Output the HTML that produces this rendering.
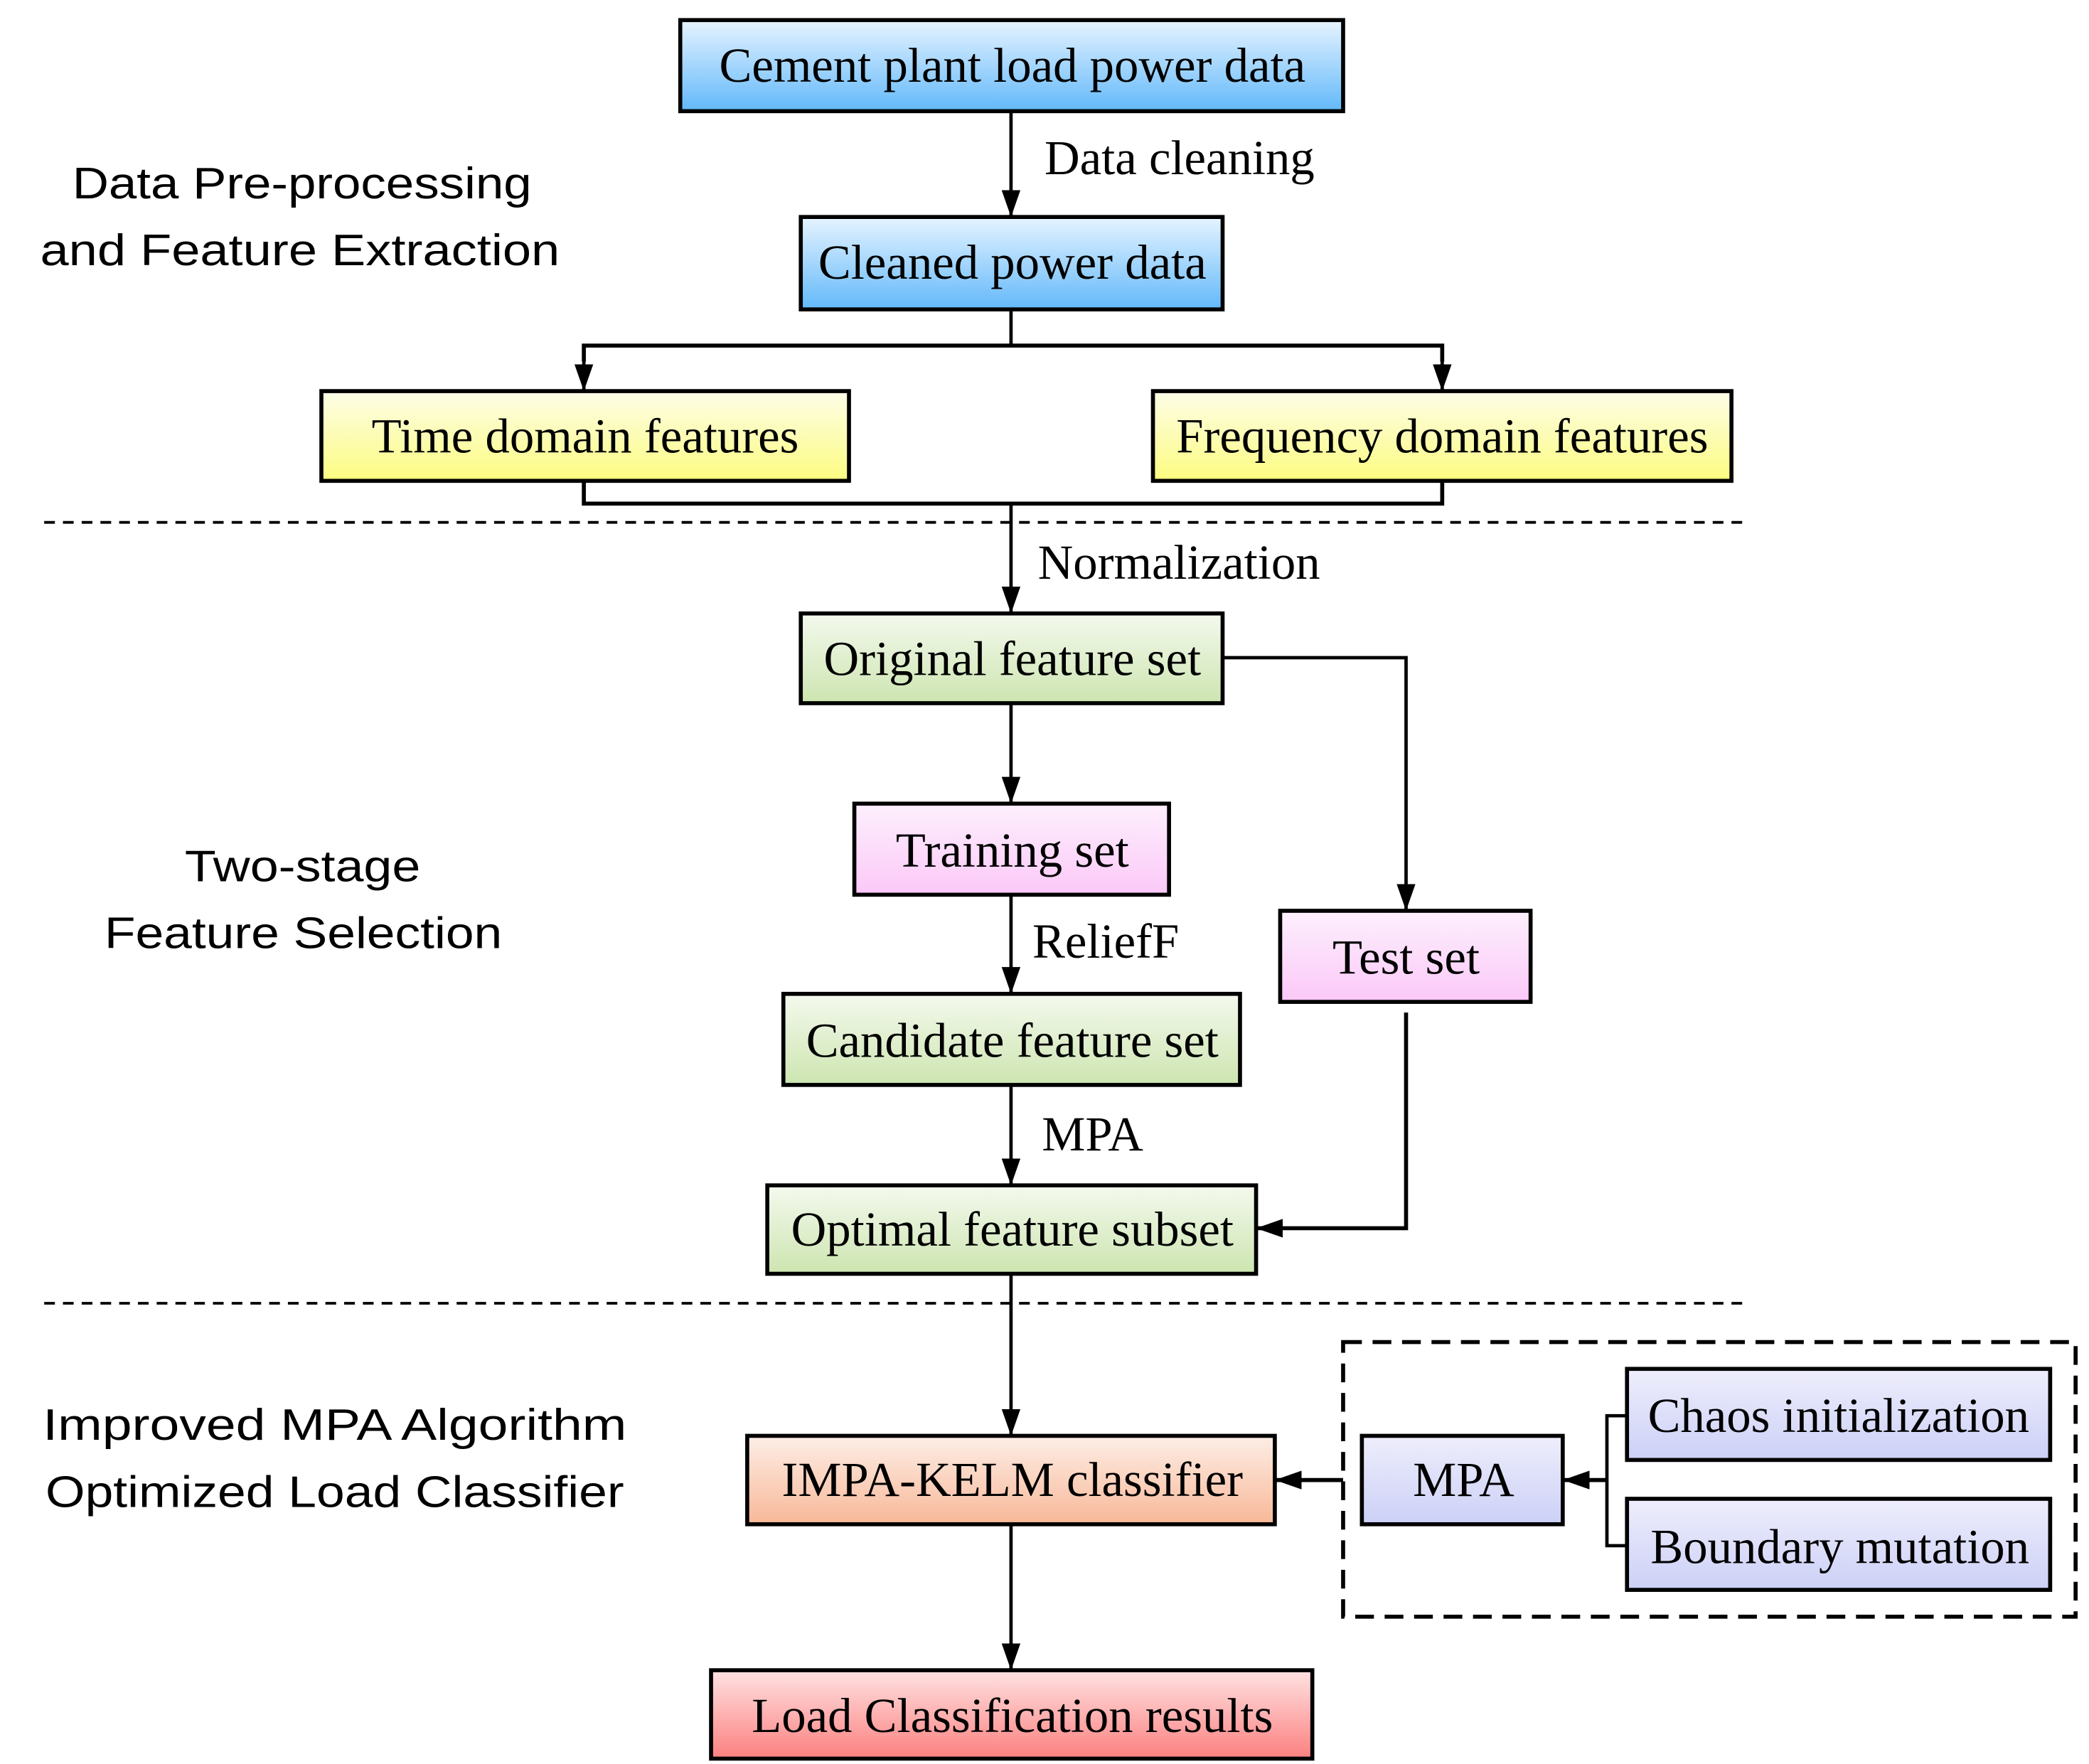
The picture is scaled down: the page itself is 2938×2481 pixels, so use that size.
<!DOCTYPE html>
<html><head><meta charset="utf-8"><style>html,body{margin:0;padding:0;background:#fff}svg{display:block}</style></head>
<body>
<svg width="2938" height="2481" viewBox="0 0 1560 1317" preserveAspectRatio="none" xmlns="http://www.w3.org/2000/svg">
<defs>
<linearGradient id="gb" x1="0" y1="0" x2="0" y2="1"><stop offset="0" stop-color="#e6f4ff"/><stop offset="1" stop-color="#62b8fa"/></linearGradient>
<linearGradient id="gy" x1="0" y1="0" x2="0" y2="1"><stop offset="0" stop-color="#fdfde8"/><stop offset="1" stop-color="#fcfc80"/></linearGradient>
<linearGradient id="gg" x1="0" y1="0" x2="0" y2="1"><stop offset="0" stop-color="#f4f9ee"/><stop offset="1" stop-color="#cde5b0"/></linearGradient>
<linearGradient id="gp" x1="0" y1="0" x2="0" y2="1"><stop offset="0" stop-color="#fdf0fd"/><stop offset="1" stop-color="#fbc8f8"/></linearGradient>
<linearGradient id="go" x1="0" y1="0" x2="0" y2="1"><stop offset="0" stop-color="#fdeee6"/><stop offset="1" stop-color="#f8b898"/></linearGradient>
<linearGradient id="gr" x1="0" y1="0" x2="0" y2="1"><stop offset="0" stop-color="#ffe2e2"/><stop offset="1" stop-color="#fc8080"/></linearGradient>
<linearGradient id="gl" x1="0" y1="0" x2="0" y2="1"><stop offset="0" stop-color="#eeeefc"/><stop offset="1" stop-color="#ccd0f6"/></linearGradient>
<marker id="a" markerWidth="20" markerHeight="14" refX="19" refY="7" orient="auto" markerUnits="userSpaceOnUse"><path d="M0,0 L20,7 L0,14 Z" fill="#000"/></marker>
</defs>
<g stroke="#000" stroke-width="3">
<rect x="508" y="15" width="495" height="68" fill="url(#gb)"/>
<rect x="598" y="162" width="315" height="69" fill="url(#gb)"/>
<rect x="240" y="292" width="394" height="67" fill="url(#gy)"/>
<rect x="861" y="292" width="432" height="67" fill="url(#gy)"/>
<rect x="598" y="458" width="315" height="67" fill="url(#gg)"/>
<rect x="638" y="600" width="235" height="68" fill="url(#gp)"/>
<rect x="956" y="680" width="187" height="68" fill="url(#gp)"/>
<rect x="585" y="742" width="341" height="68" fill="url(#gg)"/>
<rect x="573" y="885" width="365" height="66" fill="url(#gg)"/>
<rect x="558" y="1072" width="394" height="66" fill="url(#go)"/>
<rect x="531" y="1247" width="449" height="66" fill="url(#gr)"/>
<rect x="1017" y="1072" width="150" height="66" fill="url(#gl)"/>
<rect x="1215" y="1022" width="316" height="68" fill="url(#gl)"/>
<rect x="1215" y="1119" width="316" height="68" fill="url(#gl)"/>
</g>
<g stroke="#000" stroke-width="2.5" fill="none">
<line x1="755" y1="83" x2="755" y2="161" marker-end="url(#a)"/>
<polyline points="755,231 755,258"/>
<polyline points="436,270 436,258 1077,258 1077,270" stroke-width="3"/>
<line x1="436" y1="258" x2="436" y2="291" marker-end="url(#a)"/>
<line x1="1077" y1="258" x2="1077" y2="291" marker-end="url(#a)"/>
<polyline points="436,359 436,376 1077,376 1077,359" stroke-width="3"/>
<line x1="755" y1="376" x2="755" y2="457" marker-end="url(#a)"/>
<polyline points="913,491 1050,491 1050,679" marker-end="url(#a)"/>
<line x1="755" y1="525" x2="755" y2="599" marker-end="url(#a)"/>
<line x1="755" y1="668" x2="755" y2="741" marker-end="url(#a)"/>
<line x1="755" y1="810" x2="755" y2="884" marker-end="url(#a)"/>
<polyline points="1050,756 1050,917 939,917" marker-end="url(#a)" stroke-width="3"/>
<line x1="755" y1="951" x2="755" y2="1071" marker-end="url(#a)"/>
<line x1="755" y1="1138" x2="755" y2="1246" marker-end="url(#a)"/>
<line x1="1003" y1="1105" x2="953" y2="1105" marker-end="url(#a)" stroke-width="3"/>
<polyline points="1215,1057 1200,1057 1200,1154 1215,1154"/>
<line x1="1200" y1="1105" x2="1168" y2="1105" marker-end="url(#a)" stroke-width="3"/>
<line x1="33" y1="390" x2="1307" y2="390" stroke-dasharray="8,6" stroke-width="2"/>
<line x1="33" y1="973" x2="1307" y2="973" stroke-dasharray="8,6" stroke-width="2"/>
<rect x="1003" y="1002" width="547" height="205" stroke-dasharray="14,8" stroke-width="3"/>
</g>
<g font-family="'Liberation Serif',serif" font-size="36.5" text-anchor="middle" fill="#000">
<text x="756" y="61">Cement plant load power data</text>
<text x="756" y="208">Cleaned power data</text>
<text x="437" y="338">Time domain features</text>
<text x="1077" y="338">Frequency domain features</text>
<text x="756" y="504">Original feature set</text>
<text x="756" y="647">Training set</text>
<text x="1050" y="727">Test set</text>
<text x="756" y="789">Candidate feature set</text>
<text x="756" y="930">Optimal feature subset</text>
<text x="756" y="1117">IMPA-KELM classifier</text>
<text x="756" y="1293">Load Classification results</text>
<text x="1093" y="1117">MPA</text>
<text x="1373" y="1069">Chaos initialization</text>
<text x="1374" y="1167">Boundary mutation</text>
<g text-anchor="start">
<text x="780" y="130">Data cleaning</text>
<text x="775" y="432">Normalization</text>
<text x="771" y="715">ReliefF</text>
<text x="778" y="859">MPA</text>
</g>
</g>
<g font-family="'Liberation Sans',sans-serif" font-size="33" fill="#000">
<text x="54" y="148" textLength="343" lengthAdjust="spacingAndGlyphs">Data Pre-processing</text>
<text x="30" y="198" textLength="388" lengthAdjust="spacingAndGlyphs">and Feature Extraction</text>
<text x="138" y="658" textLength="176" lengthAdjust="spacingAndGlyphs">Two-stage</text>
<text x="78" y="708" textLength="297" lengthAdjust="spacingAndGlyphs">Feature Selection</text>
<text x="32" y="1075" textLength="436" lengthAdjust="spacingAndGlyphs">Improved MPA Algorithm</text>
<text x="34" y="1125" textLength="432" lengthAdjust="spacingAndGlyphs">Optimized Load Classifier</text>
</g>
</svg>
</body></html>
